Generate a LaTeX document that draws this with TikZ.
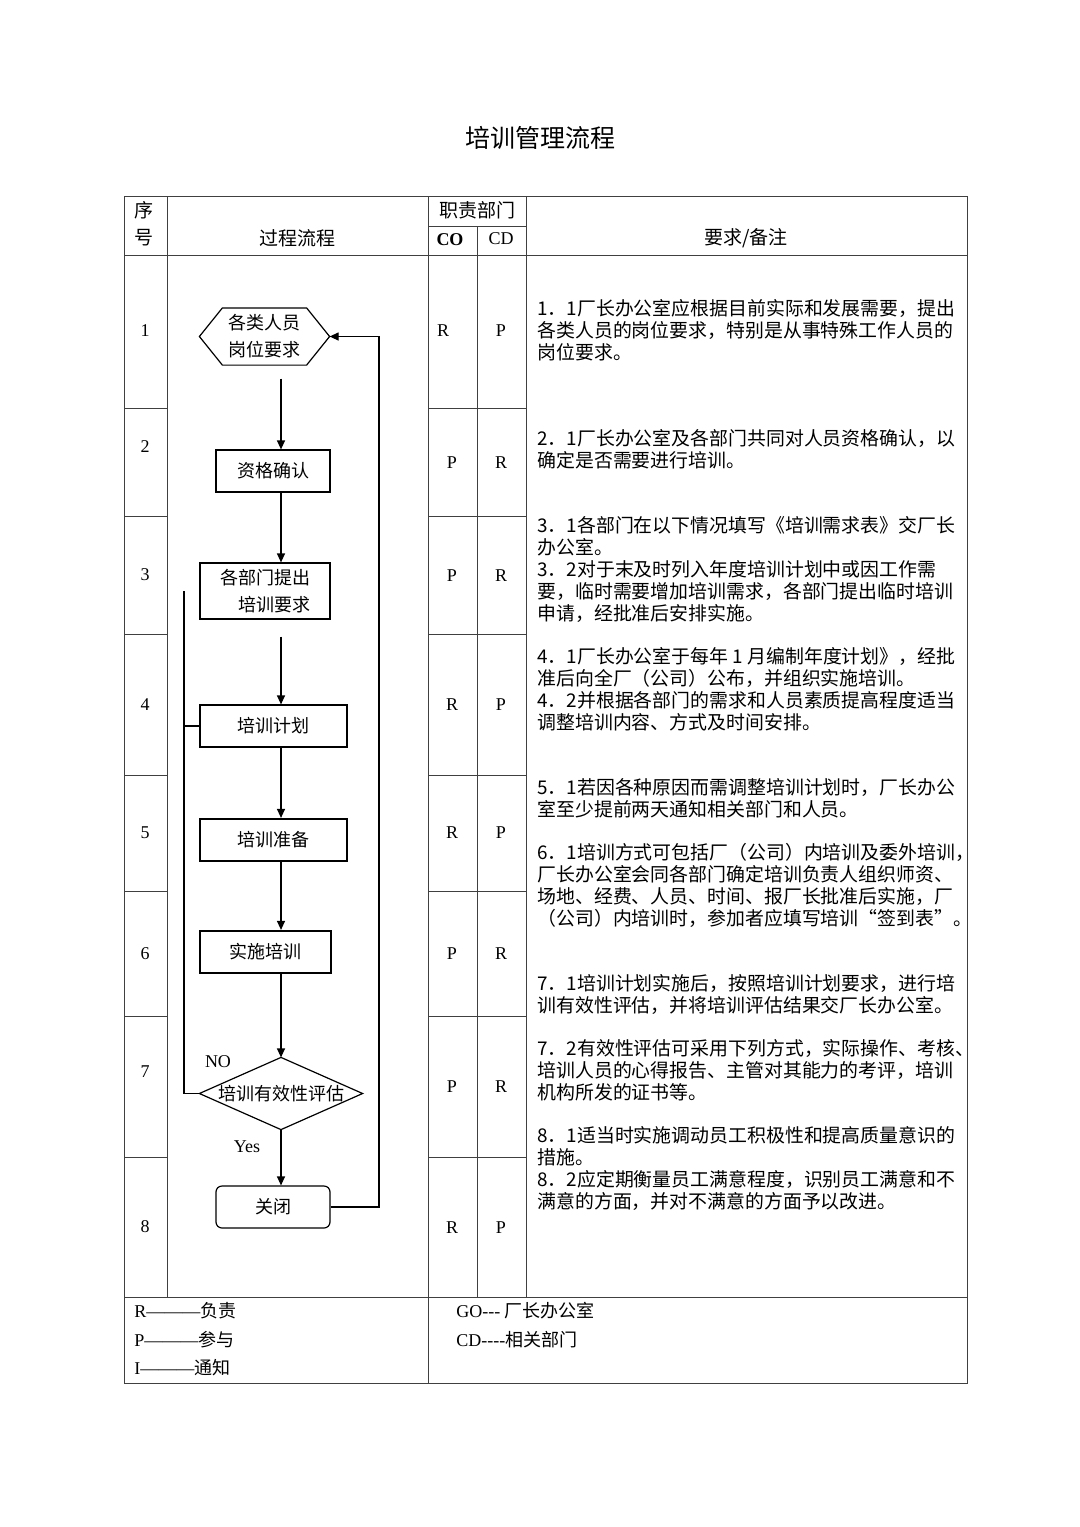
\documentclass[tikz,border=0pt]{standalone}
\usepackage{fontspec}
\setmainfont{Noto Sans CJK SC}
\newfontfamily\latrm{Liberation Serif}
\usetikzlibrary{arrows.meta,calc}

\tikzset{
  grid/.style={line width=0.5pt, draw=black!75},
  blk/.style={draw, line width=0.6pt, inner sep=0pt, align=center, font=\fontsize{9pt}{13.5pt}\selectfont},
  heavy/.style={blk, line width=1.1pt},
  flow/.style={line width=0.6pt, -{Triangle[length=4.5pt,width=4pt]}},
  note/.style={anchor=north west, inner sep=0pt, align=left, font=\fontsize{9.45pt}{11pt}\selectfont},
  lbl/.style={inner sep=0pt, font=\latrm\fontsize{9pt}{10pt}\selectfont},
  head/.style={inner sep=0pt, font=\fontsize{9.5pt}{11pt}\selectfont},
  leg/.style={anchor=west, inner sep=0pt, font=\fontsize{9pt}{10pt}\selectfont},
}

\begin{document}
\begin{tikzpicture}[x=0.5pt,y=-0.5pt]
  \path[use as bounding box, fill=white] (0,0) rectangle (1080,1527);
  \node[font=\fontsize{12.5pt}{14pt}\selectfont] (title) at (540,138) {培训管理流程};

  % table
  \draw[grid] (124,196) rectangle (967,1383);
  \draw[grid] (124,255) -- (967,255);
  \draw[grid] (124,1297) -- (967,1297);
  \draw[grid] (167,196) -- (167,1297);
  \draw[grid] (428,196) -- (428,1383);
  \draw[grid] (526,196) -- (526,1297);
  \draw[grid] (477,226) -- (477,1297);
  \draw[grid] (428,226) -- (526,226);
  \draw[grid] (124,408) -- (167,408) (428,408) -- (526,408);
  \draw[grid] (124,516) -- (167,516) (428,516) -- (526,516);
  \draw[grid] (124,634) -- (167,634) (428,634) -- (526,634);
  \draw[grid] (124,775) -- (167,775) (428,775) -- (526,775);
  \draw[grid] (124,891) -- (167,891) (428,891) -- (526,891);
  \draw[grid] (124,1016) -- (167,1016) (428,1016) -- (526,1016);
  \draw[grid] (124,1157) -- (167,1157) (428,1157) -- (526,1157);

  % header
  \node[head] (hxu) at (144,210) {序};
  \node[head] (hhao) at (144,238) {号};
  \node[head] (hflow) at (297,238) {过程流程};
  \node[head] (hdept) at (477,210) {职责部门};
  \node[lbl, font=\latrm\bfseries\fontsize{9pt}{10pt}\selectfont] (hco) at (450,240) {CO};
  \node[lbl] (hcd) at (501,239) {CD};
  \node[head] (hnote) at (746,238) {要求/备注};

  % row numbers and roles
  \node[lbl] (idx1) at (145,331) {1};
  \node[lbl] (idx2) at (145,447) {2};
  \node[lbl] (idx3) at (145,575) {3};
  \node[lbl] (idx4) at (145,705) {4};
  \node[lbl] (idx5) at (145,833) {5};
  \node[lbl] (idx6) at (145,954) {6};
  \node[lbl] (idx7) at (145,1072) {7};
  \node[lbl] (idx8) at (145,1227) {8};
  \node[lbl] (co1) at (443,331) {R};
  \node[lbl] (cd1) at (501,331) {P};
  \node[lbl] (co2) at (452,463) {P};
  \node[lbl] (cd2) at (501,463) {R};
  \node[lbl] (co3) at (452,576) {P};
  \node[lbl] (cd3) at (501,576) {R};
  \node[lbl] (co4) at (452,705) {R};
  \node[lbl] (cd4) at (501,705) {P};
  \node[lbl] (co5) at (452,833) {R};
  \node[lbl] (cd5) at (501,833) {P};
  \node[lbl] (co6) at (452,954) {P};
  \node[lbl] (cd6) at (501,954) {R};
  \node[lbl] (co7) at (452,1087) {P};
  \node[lbl] (cd7) at (501,1087) {R};
  \node[lbl] (co8) at (452,1228) {R};
  \node[lbl] (cd8) at (501,1228) {P};

  % flow chart
  \node[blk, draw=none, minimum width=64.5pt, minimum height=28pt] (hex) at (264.5,336.5) {各类人员\\岗位要求};
  \draw[line width=0.6pt] (hex.west) -- ($(hex.north west)+(23,0)$) -- ($(hex.north east)+(-23,0)$) -- (hex.east)
    -- ($(hex.south east)+(-23,0)$) -- ($(hex.south west)+(23,0)$) -- cycle;
  \node[blk, minimum width=57pt, minimum height=21pt] (zg) at (273,471) {资格确认};
  \node[blk, align=right, minimum width=65pt, minimum height=28pt] (req) at (265,591) {各部门提出\\培训要求};
  \node[blk, minimum width=73.5pt, minimum height=21pt] (plan) at (273.5,726) {培训计划};
  \node[heavy, minimum width=73.5pt, minimum height=21pt] (prep) at (273.5,840) {培训准备};
  \node[heavy, minimum width=65.5pt, minimum height=21pt] (impl) at (265.5,952) {实施培训};
  \node[blk, draw=none, minimum width=81pt, minimum height=35.5pt] (dec) at (281,1093.5) {培训有效性评估};
  \draw[line width=0.6pt] (dec.west) -- (dec.north) -- (dec.east) -- (dec.south) -- cycle;
  \node[blk, rounded corners=3pt, minimum width=57pt, minimum height=21pt] (gb) at (273,1207) {关闭};
  \node[lbl] (nolbl) at (218,1062) {NO};
  \node[lbl] (yeslbl) at (247,1147) {Yes};

  \coordinate (spine) at (281,0);
  \coordinate (back) at (379,0);
  \coordinate (nol) at (184,591);
  \draw[flow, shorten <=6.75pt] (hex.south -| spine) -- (zg.north -| spine);
  \draw[flow] (zg.south -| spine) -- (req.north -| spine);
  \draw[flow, shorten <=8.5pt] (req.south -| spine) -- (plan.north -| spine);
  \draw[flow] (plan.south -| spine) -- (prep.north -| spine);
  \draw[flow] (prep.south -| spine) -- (impl.north -| spine);
  \draw[flow] (impl.south -| spine) -- (dec.north);
  \draw[flow] (dec.south) -- (gb.north -| spine);
  \draw[flow] (gb.east) -- (gb.east -| back) -- (hex.east -| back) -- (hex.east);
  \draw[line width=0.6pt] (dec.west) -- (dec.west -| nol) -- (nol);
  \draw[line width=0.6pt] (plan.west) -- (plan.west -| nol);

  % requirements
  \node[note] (rem1) at (537,299) {1．1厂长办公室应根据目前实际和发展需要，提出\\各类人员的岗位要求，特别是从事特殊工作人员的\\岗位要求。};
  \node[note] (rem2) at (537,429) {2．1厂长办公室及各部门共同对人员资格确认，以\\确定是否需要进行培训。};
  \node[note] (rem3) at (537,516) {3．1各部门在以下情况填写《培训需求表》交厂长\\办公室。\\3．2对于末及时列入年度培训计划中或因工作需\\要，临时需要增加培训需求，各部门提出临时培训\\申请，经批准后安排实施。};
  \node[note] (rem4) at (537,647) {4．1厂长办公室于每年 1 月编制年度计划》，经批\\准后向全厂（公司）公布，并组织实施培训。\\4．2并根据各部门的需求和人员素质提高程度适当\\调整培训内容、方式及时间安排。};
  \node[note] (rem5) at (537,778) {5．1若因各种原因而需调整培训计划时，厂长办公\\室至少提前两天通知相关部门和人员。};
  \node[note] (rem6) at (537,843) {6．1培训方式可包括厂（公司）内培训及委外培训，\\厂长办公室会同各部门确定培训负责人组织师资、\\场地、经费、人员、时间、报厂长批准后实施，厂\\（公司）内培训时，参加者应填写培训“签到表”。};
  \node[note] (rem7a) at (537,974) {7．1培训计划实施后，按照培训计划要求，进行培\\训有效性评估，并将培训评估结果交厂长办公室。};
  \node[note] (rem7b) at (537,1039) {7．2有效性评估可采用下列方式，实际操作、考核、\\培训人员的心得报告、主管对其能力的考评，培训\\机构所发的证书等。};
  \node[note] (rem8) at (537,1126) {8．1适当时实施调动员工积极性和提高质量意识的\\措施。\\8．2应定期衡量员工满意程度，识别员工满意和不\\满意的方面，并对不满意的方面予以改进。};

  % legend
  \node[leg] (legr) at (134,1311) {{\latrm R———}负责};
  \node[leg] (legp) at (134,1340) {{\latrm P———}参与};
  \node[leg] (legi) at (134,1368) {{\latrm I———}通知};
  \node[leg] (legco) at (456,1311) {{\latrm GO-{}-{}-} 厂长办公室};
  \node[leg] (legcd) at (456,1340) {{\latrm CD-{}-{}-{}-}相关部门};
\end{tikzpicture}
\end{document}
